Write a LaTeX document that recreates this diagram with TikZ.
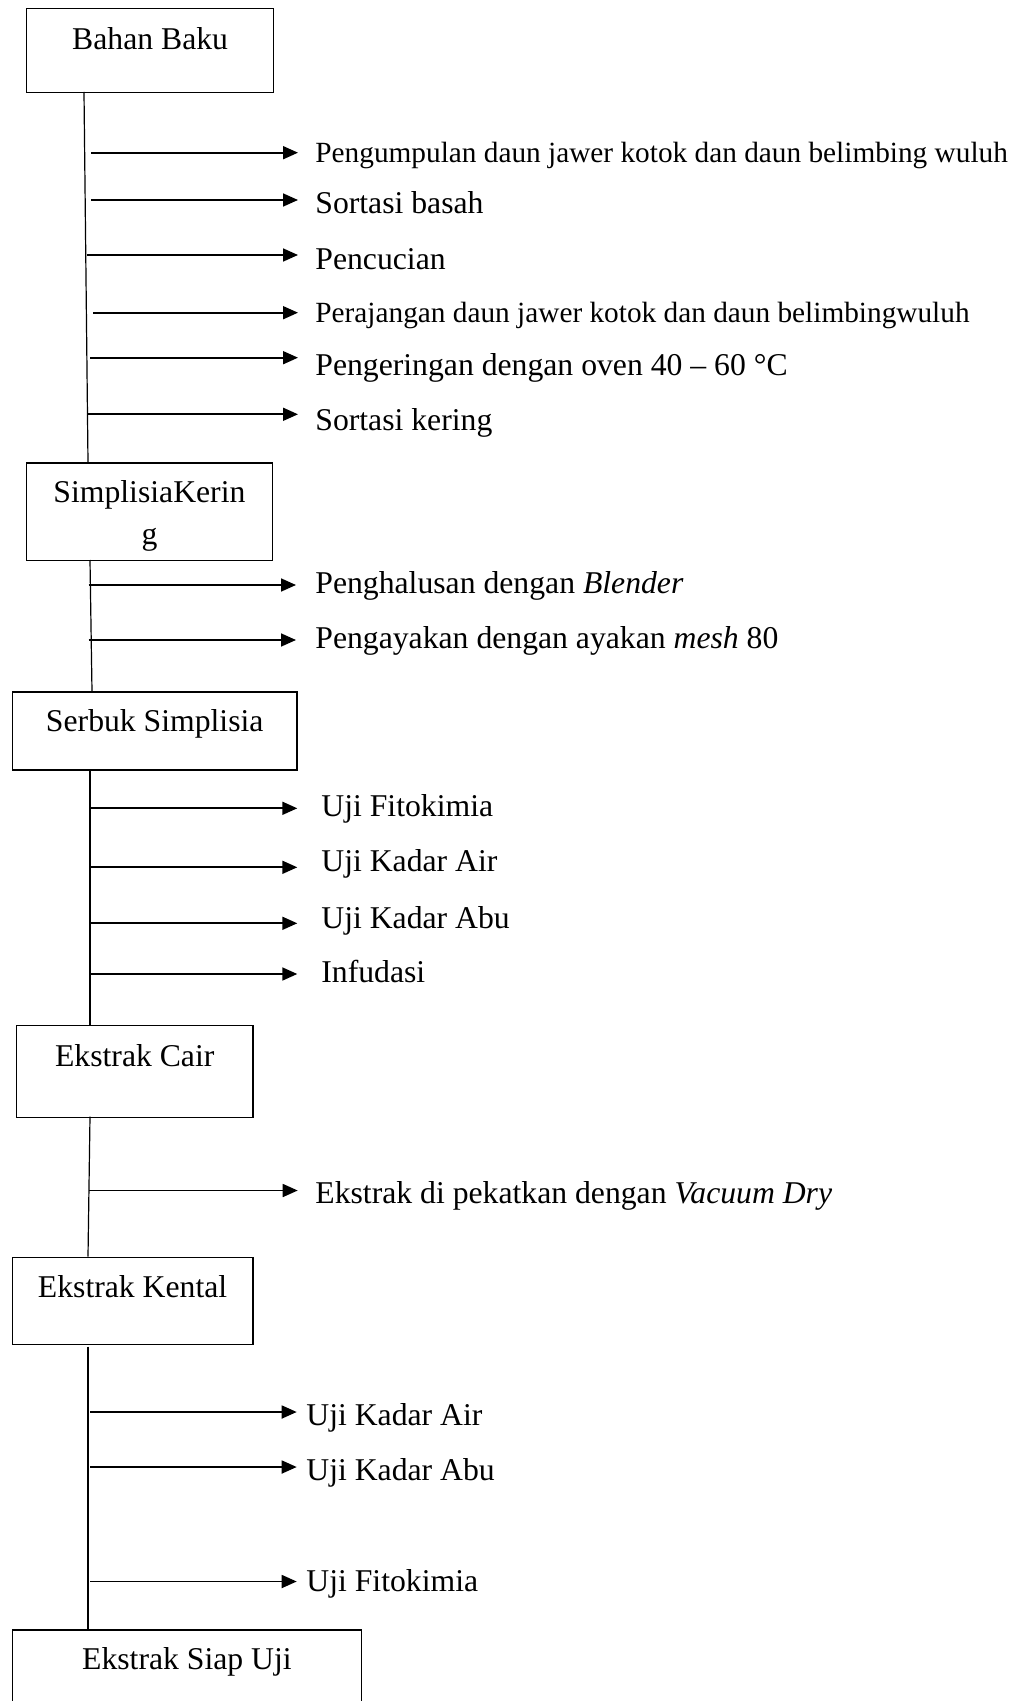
\documentclass[tikz,border=0pt]{standalone}
\usepackage{fontspec}
\setmainfont{Liberation Serif}
\usetikzlibrary{arrows.meta}
\newcommand\myBig{\fontsize{15.85pt}{21pt}\selectfont}
\newcommand\mySmall{\fontsize{14.65pt}{18pt}\selectfont}
\begin{document}
\begin{tikzpicture}[x=0.5pt,y=-0.5pt,
  stagebox/.style={draw, line width=0.6pt, inner sep=0pt, anchor=north west, font=\myBig},
  lbl/.style={inner sep=0pt, anchor=base west, font=\myBig},
  lbls/.style={inner sep=0pt, anchor=base west, font=\mySmall},
  trunk/.style={line width=0.6pt},
  arr/.style={line width=0.85pt, -{Triangle[length=7.5pt,width=6.5pt]}}]
\useasboundingbox (0,0) rectangle (1016,1701);
\clip (0,0) rectangle (1016,1701);

% stage boxes
\node[stagebox, minimum width=123.5pt, text height=20.5pt, text depth=21.5pt] (bahan) at (26,8) {Bahan Baku};
\node[stagebox, align=center, text width=123.15pt, text height=19.9pt, text depth=28.95pt] (simpl) at (25.7,462.3) {SimplisiaKerin\\g};
\node[stagebox, minimum width=142.15pt, text height=20pt, text depth=19pt] (serbuk) at (12,691.3) {Serbuk Simplisia};
\node[stagebox, minimum width=118.15pt, text height=20.2pt, text depth=25.55pt] (cair) at (16,1025) {Ekstrak Cair};
\node[stagebox, minimum width=120.3pt, text height=20.2pt, text depth=23.3pt] (kental) at (11.7,1256.7) {Ekstrak Kental};
\node[stagebox, minimum width=174.35pt, text height=19.7pt, text depth=20.65pt] (siap) at (12,1629.3) {Ekstrak Siap Uji};

% trunk lines
\coordinate (k1a) at (84,92);    \coordinate (k1b) at (88,462.3);
\coordinate (k2a) at (90,560);   \coordinate (k2b) at (92,691.3);
\coordinate (k3a) at (90,769.3); \coordinate (k3b) at (90,1025);
\coordinate (k4a) at (90,1116.5);\coordinate (k4b) at (88,1256.7);
\coordinate (k5a) at (88,1346.7);\coordinate (k5b) at (88,1629.3);
\draw[trunk] (k1a) -- (k1b);
\draw[trunk] (k2a) -- (k2b);
\draw[trunk] (k3a) -- (k3b);
\draw[trunk] (k4a) -- (k4b);
\draw[trunk] (k5a) -- (k5b);

% section 1
\coordinate (s1) at (91,152.7);  \coordinate (e1) at (298,152.7);
\coordinate (s2) at (91,200);    \coordinate (e2) at (298,200);
\coordinate (s3) at (87,255);    \coordinate (e3) at (298,255);
\coordinate (s4) at (93,312.7);  \coordinate (e4) at (298,312.7);
\coordinate (s5) at (90,357.7);  \coordinate (e5) at (298,357.7);
\coordinate (s6) at (87.5,414.3);\coordinate (e6) at (298,414.3);
\foreach \i in {1,...,6} {\draw[arr] (s\i) -- (e\i);}
\node[lbls] (l1) at (315,162.3) {Pengumpulan daun jawer kotok dan daun belimbing wuluh};
\node[lbl]  (l2) at (315,213.3) {Sortasi basah};
\node[lbl]  (l3) at (315,270) {Pencucian};
\node[lbls] (l4) at (315,322.7) {Perajangan daun jawer kotok dan daun belimbingwuluh};
\node[lbl]  (l5) at (315,375) {Pengeringan dengan oven 40 – 60 °C};
\node[lbl]  (l6) at (315,430) {Sortasi kering};

% section 2
\coordinate (s7) at (88.5,585);  \coordinate (e7) at (296,585);
\coordinate (s8) at (88.5,640);  \coordinate (e8) at (296,640);
\draw[arr] (s7) -- (e7);
\draw[arr] (s8) -- (e8);
\node[lbl] (l7) at (315,593) {Penghalusan dengan \textit{Blender}};
\node[lbl] (l8) at (315,648) {Pengayakan dengan ayakan \textit{mesh} 80};

% section 3
\coordinate (s9) at (90,808.3);   \coordinate (e9) at (297.3,808.3);
\coordinate (s10) at (90,867.3);  \coordinate (e10) at (297.3,867.3);
\coordinate (s11) at (90,923.3);  \coordinate (e11) at (297.3,923.3);
\coordinate (s12) at (90,974);    \coordinate (e12) at (297.3,974);
\foreach \i in {9,...,12} {\draw[arr] (s\i) -- (e\i);}
\node[lbl] (l9) at (321,816.5) {Uji Fitokimia};
\node[lbl] (l10) at (321,871.7) {Uji Kadar Air};
\node[lbl] (l11) at (321,928.3) {Uji Kadar Abu};
\node[lbl] (l12) at (321,982.5) {Infudasi};

% section 4
\coordinate (s13) at (89,1190.5); \coordinate (e13) at (297.7,1190.5);
\draw[arr] (s13) -- (e13);
\node[lbl] (l13) at (315,1203) {Ekstrak di pekatkan dengan \textit{Vacuum Dry}};

% section 5
\coordinate (s14) at (90,1412);   \coordinate (e14) at (296.7,1412);
\coordinate (s15) at (90,1467);   \coordinate (e15) at (296.7,1467);
\coordinate (s16) at (90,1581.5); \coordinate (e16) at (296.7,1581.5);
\foreach \i in {14,15,16} {\draw[arr] (s\i) -- (e\i);}
\node[lbl] (l14) at (306,1425) {Uji Kadar Air};
\node[lbl] (l15) at (306,1480) {Uji Kadar Abu};
\node[lbl] (l16) at (306,1591.7) {Uji Fitokimia};
\end{tikzpicture}
\end{document}
